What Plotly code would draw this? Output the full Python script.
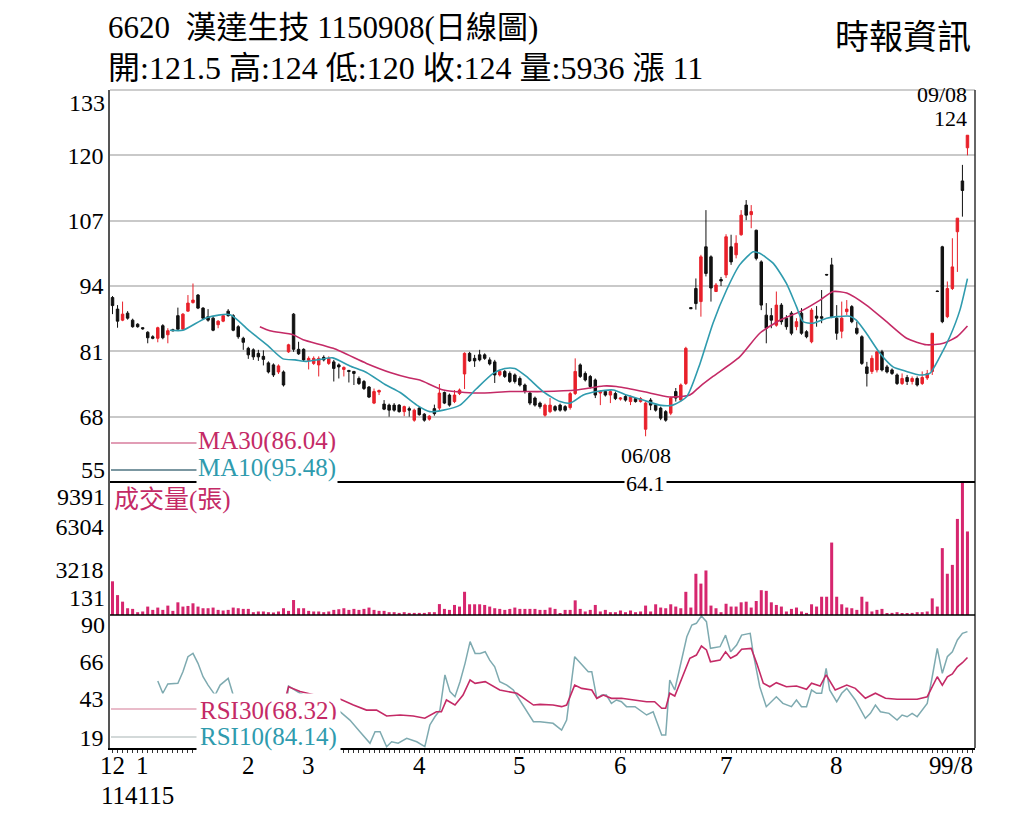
import plotly.graph_objects as go
from plotly.subplots import make_subplots

# daily candles, 114/12 .. 115/09/08 (one entry per trading day)
opens = [91.7, 89.4, 87.2, 88.6, 87.2, 86.4, 85.7, 84.8, 83.9, 83.6,
         86.1, 84.3, 85.3, 88.1, 85.4, 89.0, 90.7, 92.2, 89.6, 87.9,
         87.6, 86.3, 87.0, 89.0, 88.1, 85.9, 83.6, 81.6, 81.3, 80.6,
         80.0, 78.7, 78.3, 76.9, 76.9, 80.9, 88.4, 81.4, 81.4, 79.2,
         78.6, 78.3, 79.8, 78.6, 78.9, 78.3, 77.4, 77.2, 77.0, 75.6,
         75.0, 73.9, 70.7, 72.9, 70.5, 70.3, 70.3, 70.3, 69.0, 69.6,
         67.3, 69.7, 68.5, 67.5, 69.6, 69.7, 72.8, 72.3, 71.0, 72.6,
         76.5, 80.6, 79.6, 80.3, 80.3, 79.3, 78.9, 76.3, 77.0, 76.6,
         76.3, 75.6, 74.3, 72.7, 71.7, 70.7, 68.3, 69.0, 70.0, 70.3,
         70.0, 69.8, 72.6, 78.3, 76.6, 76.0, 75.3, 72.7, 73.0, 72.3,
         72.6, 71.5, 72.0, 71.0, 71.6, 71.0, 65.5, 71.3, 70.3, 69.7,
         69.0, 68.7, 73.0, 71.3, 74.6, 89.7, 93.5, 90.9, 101.8, 99.8,
         92.9, 95.3, 96.2, 101.8, 100.2, 104.2, 110.1, 108.2, 105.1, 98.8,
         88.2, 88.1, 86.2, 90.2, 87.6, 88.6, 85.9, 88.6, 84.9, 82.9,
         88.0, 87.9, 96.3, 98.2, 87.6, 85.0, 88.9, 89.9, 85.6, 83.9,
         77.9, 77.0, 77.3, 80.9, 77.9, 77.3, 76.3, 74.6, 75.8, 75.0,
         75.6, 74.6, 75.7, 77.0, 93.0, 101.8, 87.9, 93.5, 104.8, 114.9,
         121.5]
highs = [92.0, 90.2, 90.9, 89.0, 87.5, 86.6, 85.8, 85.0, 84.2, 85.9,
         86.4, 85.6, 85.5, 89.7, 88.6, 92.2, 94.5, 92.4, 89.8, 89.4,
         88.0, 87.2, 88.3, 89.4, 88.4, 86.2, 83.9, 81.9, 81.6, 81.3,
         81.2, 79.0, 78.6, 78.4, 77.2, 82.5, 88.6, 82.9, 81.6, 80.0,
         80.0, 80.0, 80.2, 80.0, 79.3, 78.6, 78.0, 77.3, 77.1, 76.0,
         75.3, 74.1, 73.6, 73.4, 71.3, 70.6, 70.7, 70.5, 70.2, 70.0,
         69.6, 70.0, 68.7, 68.3, 70.4, 74.5, 73.0, 72.6, 73.3, 73.6,
         80.8, 80.9, 80.3, 81.3, 80.6, 79.8, 79.3, 77.3, 77.3, 77.0,
         76.6, 76.0, 74.6, 73.0, 72.0, 71.0, 70.6, 71.7, 70.3, 70.6,
         70.3, 72.9, 79.6, 78.6, 77.0, 76.3, 75.6, 73.3, 73.3, 73.3,
         73.0, 71.9, 72.3, 72.2, 71.9, 71.9, 71.0, 71.7, 70.6, 70.0,
         69.3, 72.0, 73.7, 74.6, 81.9, 89.8, 95.5, 100.2, 109.1, 100.1,
         94.6, 95.8, 104.3, 104.2, 104.1, 109.1, 111.1, 110.1, 105.2, 99.1,
         90.6, 89.6, 92.9, 90.6, 88.2, 89.0, 87.6, 89.6, 85.2, 89.6,
         90.0, 93.2, 96.4, 99.6, 90.2, 90.9, 91.2, 90.2, 86.9, 84.2,
         78.9, 80.2, 81.0, 81.3, 78.3, 77.6, 76.6, 76.6, 76.3, 76.0,
         76.0, 77.0, 77.3, 84.6, 93.1, 102.0, 94.9, 103.5, 107.5, 118.1,
         124.0]
lows = [88.4, 85.7, 87.0, 87.3, 85.7, 85.7, 85.3, 82.6, 83.4, 82.8,
        83.4, 82.6, 85.0, 85.3, 85.3, 88.9, 90.5, 89.4, 87.3, 86.9,
        85.0, 85.6, 86.8, 87.9, 85.0, 83.5, 81.3, 79.5, 79.3, 79.1,
        78.2, 76.6, 75.9, 76.5, 74.0, 80.7, 80.9, 80.3, 78.9, 77.4,
        78.3, 76.0, 79.0, 78.3, 75.0, 75.6, 76.0, 74.8, 74.3, 74.3,
        73.3, 71.7, 70.5, 72.3, 69.3, 68.0, 69.0, 68.8, 68.1, 68.0,
        67.0, 68.2, 67.0, 67.2, 68.2, 69.3, 70.5, 70.0, 70.7, 72.3,
        73.5, 78.9, 77.9, 79.0, 79.3, 78.2, 74.7, 76.0, 75.7, 74.7,
        74.6, 74.0, 72.6, 70.3, 70.0, 69.6, 68.0, 68.7, 69.0, 69.0,
        69.0, 69.4, 72.3, 75.7, 75.0, 73.6, 71.7, 70.3, 72.0, 70.7,
        71.3, 71.2, 71.0, 70.3, 70.8, 70.8, 64.1, 69.3, 69.0, 67.3,
        67.0, 68.3, 71.0, 71.0, 74.3, 89.4, 89.3, 87.9, 95.9, 90.9,
        92.8, 94.0, 95.6, 98.2, 99.5, 104.0, 107.1, 105.5, 99.1, 89.2,
        82.6, 85.6, 85.9, 86.3, 85.3, 84.2, 85.2, 84.3, 83.6, 82.6,
        85.9, 86.6, 96.1, 87.6, 83.3, 83.6, 88.2, 86.6, 84.3, 78.3,
        74.0, 76.5, 76.8, 77.0, 76.6, 76.3, 74.3, 74.3, 74.3, 74.4,
        74.0, 74.3, 75.3, 76.3, 92.8, 86.6, 87.6, 93.2, 96.8, 107.8,
        120.0]
closes = [90.1, 87.0, 88.4, 87.6, 85.9, 85.9, 85.5, 83.7, 83.6, 85.7,
          83.7, 85.1, 85.1, 85.4, 88.4, 90.6, 91.2, 89.6, 87.6, 87.2,
          85.2, 87.0, 88.1, 88.1, 85.2, 83.9, 82.8, 80.3, 79.9, 79.9,
          79.4, 76.9, 76.3, 78.1, 74.3, 82.3, 81.4, 80.5, 79.3, 79.6,
          79.6, 79.6, 79.3, 79.6, 77.6, 77.9, 77.8, 77.0, 76.6, 74.6,
          73.6, 71.9, 73.0, 73.2, 69.5, 69.3, 69.3, 69.0, 70.0, 69.3,
          69.3, 68.4, 67.3, 68.1, 68.6, 72.7, 70.7, 70.3, 72.3, 73.3,
          80.6, 79.1, 79.1, 79.3, 79.6, 78.5, 76.3, 77.0, 76.0, 75.0,
          75.0, 74.3, 73.0, 70.7, 70.3, 70.0, 70.3, 70.3, 69.3, 69.3,
          69.3, 72.6, 77.0, 76.0, 75.3, 74.0, 72.3, 73.0, 72.3, 73.0,
          71.6, 71.7, 71.3, 71.9, 71.0, 71.6, 70.7, 70.3, 69.3, 67.7,
          67.3, 71.7, 71.7, 74.3, 81.6, 89.5, 90.5, 99.8, 96.5, 93.6,
          94.2, 95.0, 103.8, 98.8, 102.5, 108.1, 108.1, 108.8, 99.5, 90.2,
          85.6, 87.2, 90.2, 86.9, 85.9, 84.6, 86.9, 84.6, 83.9, 89.2,
          87.6, 87.6, 96.2, 87.9, 84.6, 87.6, 89.4, 86.9, 84.6, 78.6,
          76.6, 79.6, 80.9, 77.3, 76.9, 76.6, 74.6, 75.6, 75.0, 75.6,
          74.3, 75.8, 76.6, 84.6, 92.9, 86.9, 93.5, 97.8, 107.5, 113.0,
          124.0]
volumes = [2394, 1414, 948, 481, 434, 200, 250, 598, 364, 528,
           364, 667, 294, 901, 598, 644, 831, 598, 481, 481,
           528, 364, 318, 364, 528, 481, 434, 434, 200, 250,
           250, 200, 180, 250, 481, 294, 1064, 481, 481, 294,
           250, 250, 200, 250, 364, 411, 481, 364, 434, 364,
           434, 528, 364, 294, 294, 200, 200, 150, 200, 150,
           150, 150, 150, 200, 200, 775, 434, 364, 714, 598,
           1650, 761, 761, 761, 714, 598, 481, 434, 364, 434,
           528, 434, 434, 434, 434, 364, 364, 530, 434, 100,
           364, 364, 1041, 434, 250, 364, 714, 250, 364, 200,
           200, 320, 200, 320, 200, 250, 669, 250, 761, 530,
           480, 761, 600, 480, 1648, 530, 2931, 2231, 3164, 669,
           480, 200, 800, 600, 600, 901, 947, 530, 994, 1763,
           1716, 901, 714, 600, 250, 434, 530, 250, 150, 761,
           600, 1298, 1298, 5148, 1298, 761, 530, 480, 364, 1298,
           947, 250, 364, 434, 100, 150, 200, 100, 100, 150,
           200, 200, 250, 1181, 600, 4751, 2931, 3561, 6827, 9391,
           5936]

# moving averages (day index, value)
ma10_x = [11.4, 14, 18.7, 23.4, 27.3, 30.7, 33.9, 36.3, 38.6, 41.3,
          43.8, 47.2, 50.5, 54.2, 57.2, 60.5, 63.1, 65.8, 69.1, 72.4,
          75.7, 78, 80, 82.3, 85.6, 89, 91, 93.6, 96.3, 99.6,
          102.2, 105.5, 108.8, 111.4, 114.2, 116.8, 119.4, 122.1, 124.7, 127.4,
          128.7, 131.4, 134, 136, 137.3, 139.3, 142, 144, 146.6, 147.9,
          149.9, 152.6, 155.2, 157.9, 160.5, 162.5, 164.5, 166.5, 168.5, 170]
ma10 = [85.2, 85.2, 87.7, 88.3, 85.0, 82.3, 79.5, 79.3, 79.0, 79.4,
        79.7, 78.1, 76.8, 74.4, 72.8, 70.3, 69.0, 69.3, 70.3, 73.6,
        76.6, 77.6, 77.6, 76.0, 73.0, 71.0, 70.7, 72.3, 73.0, 73.3,
        72.3, 71.3, 70.3, 70.3, 72.0, 78.5, 86.6, 93.2, 98.2, 100.8,
        100.5, 98.5, 94.5, 89.9, 86.9, 86.6, 87.6, 87.9, 88.0, 87.2,
        84.6, 80.6, 77.9, 77.0, 76.3, 76.6, 79.9, 83.9, 89.2, 95.48]
ma30_x = [29.3, 31.3, 35.9, 37.9, 43.9, 50.5, 55.2, 59.1, 61.1, 65.8,
          72.4, 79, 85.6, 92.3, 97.6, 100.2, 105.5, 110.8, 114.8, 116.8,
          119.4, 124.7, 128.7, 132.7, 136.7, 140.7, 143.3, 146, 149.9, 153.9,
          157.9, 161.9, 165.2, 167.9, 170]
ma30 = [85.9, 85.1, 84.3, 83.3, 81.6, 78.6, 76.8, 75.7, 75.3, 73.3,
        72.7, 73.0, 73.0, 73.3, 74.1, 74.0, 73.0, 71.9, 72.3, 74.0,
        76.0, 79.9, 84.6, 87.2, 88.9, 91.2, 92.9, 92.6, 90.2, 86.9,
        83.6, 82.3, 82.6, 83.9, 86.04]

# RSI (day index, value)
rsi10_x = [9, 10, 11, 13, 14, 15, 16, 17, 18, 19,
           20.4, 21.4, 23, 24, 26, 28, 30, 32, 34, 35,
           37.3, 39, 41, 43, 44.9, 47.2, 49.2, 51.2, 52.2, 53.2,
           54.5, 55.5, 56.8, 58.5, 60.5, 62.1, 63.1, 64.1, 65.1, 66.1,
           67.1, 68.1, 69.1, 70.1, 71.1, 72.1, 73.1, 74.1, 75, 76,
           77, 78.4, 79.7, 81, 82.3, 83.7, 85, 87.6, 89.3, 90.3,
           91.9, 93.3, 94.6, 95.3, 96.3, 97.3, 98.2, 99.2, 100.2, 101.2,
           102.2, 103.9, 104.9, 106.2, 107.5, 109.2, 110, 110.8, 111.8, 112.8,
           114.2, 115.2, 116.1, 117.1, 118.1, 118.9, 120.8, 121.9, 122.9, 124.1,
           125.1, 126.8, 127.4, 128.7, 130, 132, 133.3, 135, 136, 137,
           138, 139, 140, 141, 141.9, 142.6, 144, 145, 146, 147.7,
           149.7, 150.7, 151.7, 152.7, 154.4, 156, 157, 158, 159, 160,
           162, 163, 164, 165, 166, 167, 168, 169, 170]
rsi10 = [53.9, 46.4, 52.1, 52.5, 59.6, 68.8, 70.8, 64.7, 56.5, 51.4,
         45.3, 51.4, 55.5, 45.3, 38, 33, 31, 27, 22, 50.8,
         46.4, 44, 43, 39, 36.1, 30.0, 22.9, 15.8, 22.9, 22.9,
         13.7, 16.7, 15.8, 18.8, 16.7, 13.7, 27.0, 32.0, 36.1, 57.6,
         47.4, 44.3, 53.5, 64.7, 78.0, 70.8, 70.8, 71.8, 66.7, 62.6,
         53.5, 51.4, 48.4, 42.3, 36.1, 29.0, 29.0, 28.0, 23.9, 30.0,
         68.8, 63.7, 59.6, 59.6, 43.3, 45.3, 45.3, 40.2, 42.3, 41.2,
         38.2, 38.2, 36.1, 33.1, 35.1, 20.9, 20.9, 54.5, 48.4, 62.6,
         81.0, 88.2, 89.2, 93.7, 90.2, 73.9, 74.9, 82.0, 71.8, 75.9,
         82.0, 83.1, 70.8, 50.4, 38.2, 44.3, 40.2, 38.2, 42.3, 38.2,
         38.2, 48.4, 46.4, 46.4, 61.7, 48.4, 41.2, 46.4, 49.4, 42.3,
         31.1, 34.1, 39.2, 35.1, 34.1, 30.0, 33.1, 32.0, 34.1, 32.0,
         40.2, 56.5, 73.9, 58.6, 68.8, 71.8, 79.0, 83.1, 84.14]
rsi30_x = [30, 32, 34, 35, 37.3, 40, 42.5, 44.9, 47.9, 50.5,
           52.5, 54.5, 57.2, 59.8, 62.1, 64.4, 65.4, 66.4, 68.1, 69.7,
           71.1, 72.1, 74.1, 77, 80.4, 83.7, 85, 87.6, 89.3, 90.3,
           91.9, 93.3, 95.3, 96.3, 97.6, 99.2, 101.2, 104, 106.2, 107.8,
           109.2, 110, 110.8, 111.8, 113.2, 114.8, 116.1, 117.1, 118.1, 118.9,
           120.8, 121.9, 122.9, 124.1, 125.1, 127, 128.1, 129.4, 130.7, 132,
           134, 136, 138, 139, 140.7, 141.9, 143.7, 146, 147.7, 149.7,
           151.7, 153.7, 156, 158, 160, 162, 164, 165, 166, 167,
           168, 169, 170]
rsi30 = [42, 41, 39, 50.4, 47.5, 45.5, 44.5, 43.3, 39.2, 36.1,
         36.1, 32.5, 33.1, 32.5, 31.1, 35.1, 35.1, 42.3, 39.2, 45.3,
         54.5, 52.5, 53.5, 48.4, 46.4, 39.2, 39.6, 39.2, 38.2, 39.2,
         51.4, 49.4, 48.4, 43.3, 45.3, 43.3, 43.3, 42.3, 41.2, 41.2,
         37.2, 37.2, 46.4, 44.7, 55.5, 67.8, 69.8, 75.3, 72.9, 65.7,
         66.7, 71.8, 67.8, 69.8, 73.3, 73.9, 64.7, 52.5, 50.4, 52.9,
         50.4, 50.8, 48.8, 52.5, 50.8, 57.6, 48.4, 51.4, 49.4, 43.3,
         46.4, 43.3, 42.7, 42.7, 42.7, 44.3, 56.5, 51.4, 56.5, 58.2,
         62.6, 65.1, 68.32]

month_ticks = [0, 6, 27, 39, 61, 81, 101, 122, 144, 164]
month_labels = ["12", "1", "2", "3", "4", "5", "6", "7", "8", "9"]
price_ticks = [68, 81, 94, 107, 120]
vol_ticks = [3218, 6304]
rsi_ticks = [19, 43, 66]

RED = "#e8202a"
BLACK = "#111111"
CRIMSON = "#c42a66"
TEAL = "#2f9bae"
VOLC = "#d6266e"
RSI10C = "#7eaab0"
SERIF = "Liberation Serif, Noto Sans CJK TC, serif"

# the page puts an 8px body margin around the figure, so the figure is
# made 8px smaller and every page-pixel position is measured from there
OFF = 8
W, H = 1024 - OFF, 819 - OFF
PL, PR, PT, PB = 110, 975, 90, 748          # plot area in page pixels
L, T = PL - OFF, PT - OFF
R, B = W - (PR - OFF), H - (PB - OFF)
PW, PH = PR - PL, PB - PT


def px(x):
    return (x - PL) / PW


def py(y):
    return (PB - y) / PH


idx = list(range(len(closes)))

fig = make_subplots(rows=3, cols=1, shared_xaxes=True, vertical_spacing=0,
                    row_heights=[392, 133, 133])

fig.add_trace(go.Candlestick(
    x=idx, open=opens, high=highs, low=lows, close=closes,
    increasing=dict(line=dict(color=RED, width=1), fillcolor=RED),
    decreasing=dict(line=dict(color=BLACK, width=1), fillcolor=BLACK),
    whiskerwidth=0), row=1, col=1)
fig.add_trace(go.Scatter(x=ma30_x, y=ma30, mode="lines",
                         line=dict(color=CRIMSON, width=1.6, shape="spline", smoothing=0.6)),
              row=1, col=1)
fig.add_trace(go.Scatter(x=ma10_x, y=ma10, mode="lines",
                         line=dict(color=TEAL, width=1.6, shape="spline", smoothing=0.6)),
              row=1, col=1)

fig.add_trace(go.Bar(x=idx, y=volumes, width=0.6,
                     marker=dict(color=VOLC, line=dict(width=0))), row=2, col=1)

fig.add_trace(go.Scatter(x=rsi10_x, y=rsi10, mode="lines",
                         line=dict(color=RSI10C, width=1.5)), row=3, col=1)
fig.add_trace(go.Scatter(x=rsi30_x, y=rsi30, mode="lines",
                         line=dict(color=CRIMSON, width=1.6)), row=3, col=1)

fig.update_layout(width=W, height=H, margin=dict(l=L, r=R, t=T, b=B),
                  paper_bgcolor="white", plot_bgcolor="white", showlegend=False,
                  font=dict(family=SERIF, size=24, color="black"))

for r in (1, 2, 3):
    fig.update_xaxes(range=[-0.5, 171.5], showgrid=False, zeroline=False,
                     showticklabels=False, row=r, col=1)
fig.update_xaxes(rangeslider_visible=False, row=1, col=1)
# month labels are placed as annotations below; the axis keeps only the small day ticks
fig.update_xaxes(tickmode="array", tickvals=month_ticks, ticks="",
                 showline=True, linecolor="black", linewidth=1.5,
                 minor=dict(ticks="outside", ticklen=3, tickmode="linear", tick0=0, dtick=1,
                            tickcolor="#333"),
                 row=3, col=1)

yaxis_common = dict(zeroline=False, showline=True, linecolor="#555", linewidth=1.5,
                    ticks="", tickfont=dict(size=24))
fig.update_yaxes(range=[55, 133], tickvals=price_ticks, showgrid=True,
                 gridcolor="#c9c9c9", gridwidth=1.5, row=1, col=1, **yaxis_common)
fig.update_yaxes(range=[0, 9450], tickvals=vol_ticks, showgrid=False,
                 row=2, col=1, **yaxis_common)
fig.update_yaxes(range=[12.9, 94.3], tickvals=rsi_ticks, showgrid=False,
                 row=3, col=1, **yaxis_common)

# frame lines
fig.add_shape(type="line", xref="paper", yref="paper", x0=0, x1=1, y0=1, y1=1,
              line=dict(color="#bdbdbd", width=1.5))
fig.add_shape(type="line", xref="paper", yref="paper", x0=1, x1=1, y0=0, y1=1,
              line=dict(color="#333", width=1.5))
fig.add_shape(type="line", xref="paper", yref="paper", x0=0, x1=1,
              y0=266 / 658, y1=266 / 658, line=dict(color="black", width=2))
fig.add_shape(type="line", xref="paper", yref="paper", x0=0, x1=1,
              y0=133 / 658, y1=133 / 658, line=dict(color="black", width=1.5))

# legend sample lines
for ypx, col in [(443, "#d77c9c"), (470, "#4f7482"), (709, "#e2a6b8"), (737, "#c4cccc")]:
    fig.add_shape(type="line", xref="paper", yref="paper", x0=px(111), x1=px(197),
                  y0=py(ypx), y1=py(ypx), line=dict(color=col, width=1.3))

ann = []
# edge tick labels nudged inside their panels
for txt, yr, yv, sh in [("133", "y", 133, -13), ("55", "y", 55, 12),
                        ("9391", "y2", 9391, -14), ("131", "y2", 0, 17),
                        ("90", "y3", 90, -3)]:
    ann.append(dict(text=txt, xref="paper", x=0, xanchor="right", xshift=-3,
                    yref=yr, y=yv, yshift=sh, showarrow=False, font=dict(size=24)))

# month labels under the day axis
for tv, tl in zip(month_ticks, month_labels):
    ann.append(dict(text=tl, xref="x", x=tv, xshift=-2 if tl == "9" else 0,
                    yref="paper", y=py(765), yanchor="middle", showarrow=False,
                    font=dict(size=25)))

ann += [
    dict(text="6620\u00a0\u00a0漢達生技 1150908(日線圖)", xref="paper", yref="paper",
         x=px(106), y=py(27), xanchor="left", yanchor="middle", showarrow=False,
         font=dict(size=31)),
    dict(text="開:121.5 高:124 低:120 收:124 量:5936 漲 11", xref="paper", yref="paper",
         x=px(106), y=py(68), xanchor="left", yanchor="middle", showarrow=False,
         font=dict(size=32)),
    dict(text="時報資訊", xref="paper", yref="paper", x=px(973), y=py(37),
         xanchor="right", yanchor="middle", showarrow=False, font=dict(size=34)),
    dict(text="成交量(張)", xref="paper", yref="paper", x=px(112), y=py(500),
         xanchor="left", yanchor="middle", showarrow=False,
         font=dict(size=25, color=CRIMSON)),
    dict(text="MA30(86.04)", xref="paper", yref="paper", x=px(196), y=py(441),
         xanchor="left", yanchor="middle", showarrow=False, bgcolor="white",
         font=dict(size=25, color=CRIMSON)),
    dict(text="MA10(95.48)", xref="paper", yref="paper", x=px(196), y=py(468),
         xanchor="left", yanchor="middle", showarrow=False, bgcolor="white",
         font=dict(size=25, color=TEAL)),
    dict(text="RSI30(68.32)", xref="paper", yref="paper", x=px(196), y=py(711),
         xanchor="left", yanchor="middle", showarrow=False, bgcolor="white",
         borderpad=3, font=dict(size=25, color=CRIMSON)),
    dict(text="RSI10(84.14)", xref="paper", yref="paper", x=px(196), y=py(737),
         xanchor="left", yanchor="middle", showarrow=False, bgcolor="white",
         borderpad=3, font=dict(size=25, color=TEAL)),
    dict(text="06/08", xref="x", yref="y", x=106, y=64.1, yanchor="top", yshift=-5,
         showarrow=False, font=dict(size=22)),
    dict(text="64.1", xref="x", yref="y", x=106, y=64.1, yanchor="top", yshift=-33,
         showarrow=False, bgcolor="white", font=dict(size=22)),
    dict(text="09/08", xref="x", yref="y", x=170, y=124, xanchor="right", xshift=2,
         yanchor="bottom", yshift=26, showarrow=False, font=dict(size=22)),
    dict(text="124", xref="x", yref="y", x=170, y=124, xanchor="right", xshift=2,
         yanchor="bottom", yshift=2, showarrow=False, font=dict(size=22)),
    dict(text="9/8", xref="paper", yref="paper", x=1, y=py(765),
         xanchor="right", yanchor="middle", showarrow=False, font=dict(size=25)),
    dict(text="114115", xref="paper", yref="paper", x=px(99), y=py(795),
         xanchor="left", yanchor="middle", showarrow=False, font=dict(size=25)),
]
fig.update_layout(annotations=ann)

fig.write_html("out.html")
